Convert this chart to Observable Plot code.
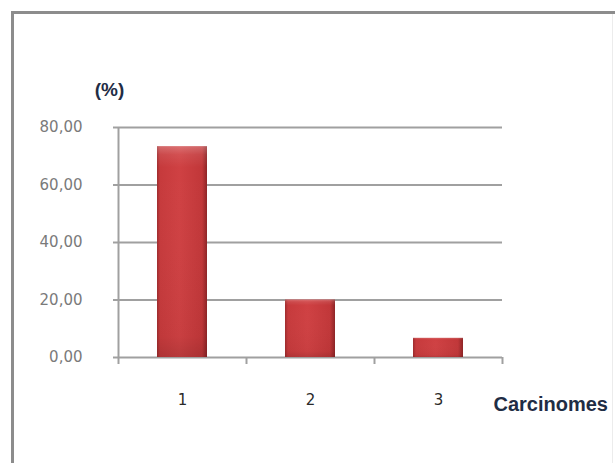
<!DOCTYPE html>
<html>
<head>
<meta charset="utf-8">
<script src="https://cdn.jsdelivr.net/npm/d3@7"></script>
<script src="https://cdn.jsdelivr.net/npm/@observablehq/plot@0.6"></script>
<style>
  html, body { margin: 0; padding: 0; background: #fff; }
  #wrap { position: relative; width: 615px; height: 463px; overflow: hidden; }
  #border { position: absolute; left: 11px; top: 11px; width: 640px; height: 480px;
            border-top: 3px solid #8c8c8c; border-left: 3px solid #8c8c8c; box-sizing: border-box; }
  #rborder { position: absolute; left: 612px; top: 14px; width: 1px; height: 460px; background: #ececec; }
  #chart { position: absolute; left: 0; top: 0; }
</style>
</head>
<body>
<div id="wrap">
  <div id="border"></div>
  <div id="rborder"></div>
  <div id="chart"></div>
</div>
<script>
const categories = ["1", "2", "3"];
const values = [73.33, 20.0, 6.67];
const yTicks = [0, 20, 40, 60, 80];
const yLabel = ["(%)"];
const xLabel = ["Carcinomes"];

const data = categories.map((c, i) => ({cat: c, value: values[i]}));
const fmt = d => d.toFixed(2).replace(".", ",");
const grey = "#a0a0a0";

const chart = Plot.plot({
  width: 615,
  height: 463,
  marginLeft: 118,
  marginRight: 113,
  marginTop: 127,
  marginBottom: 106,
  style: {background: "transparent", fontFamily: "'DejaVu Sans', sans-serif", overflow: "visible"},
  x: {type: "band", domain: categories, paddingInner: 0.61, paddingOuter: 0.305, label: null},
  y: {domain: [0, 80], label: null},
  marks: [
    Plot.gridY(yTicks, {stroke: grey, strokeOpacity: 1, strokeWidth: 2}),
    Plot.axisY({ticks: yTicks, tickSize: 5, tickPadding: 31, tickFormat: fmt, label: null,
                stroke: grey, strokeWidth: 2, fill: "#7a7a7a", fontSize: 15}),
    Plot.ruleX([categories[0]], {dx: -64, y1: 0, y2: 80, stroke: grey, strokeWidth: 2}),
    Plot.axisX({tickSize: 7, tickFormat: () => "", dx: -64, label: null, stroke: grey, strokeWidth: 2}),
    Plot.axisX({ticks: [categories[categories.length - 1]], tickSize: 7, tickFormat: () => "", dx: 64,
                label: null, stroke: grey, strokeWidth: 2}),
    Plot.axisX({tickSize: 0, tickPadding: 37, label: null, fill: "#2a2a2a", fontSize: 15}),
    Plot.barY(data, {x: "cat", y: "value", fill: "url(#barH)"}),
    Plot.barY(data, {x: "cat", y: "value", fill: "url(#barV)"}),
    Plot.text(yLabel, {frameAnchor: "top-left", textAnchor: "middle", lineAnchor: "middle", dx: -9, dy: -38,
                       fontWeight: "bold", fontSize: 19,
                       fontFamily: "'Liberation Sans', sans-serif", fill: "#1f2d45"}),
    Plot.text(xLabel, {frameAnchor: "bottom-right", textAnchor: "start", lineAnchor: "middle", dx: -9, dy: 47,
                       fontWeight: "bold", fontSize: 20,
                       fontFamily: "'Liberation Sans', sans-serif", fill: "#1f2d45"})
  ]
});

chart.insertAdjacentHTML("afterbegin", `
<defs>
  <linearGradient id="barH" x1="0" y1="0" x2="1" y2="0">
    <stop offset="0%" stop-color="#9e2b2d"/>
    <stop offset="6%" stop-color="#c63a3c"/>
    <stop offset="45%" stop-color="#cf4143"/>
    <stop offset="90%" stop-color="#c13739"/>
    <stop offset="100%" stop-color="#8e2426"/>
  </linearGradient>
  <linearGradient id="barV" x1="0" y1="0" x2="0" y2="1">
    <stop offset="0%" stop-color="#ffffff" stop-opacity="0.25"/>
    <stop offset="4%" stop-color="#ffffff" stop-opacity="0.08"/>
    <stop offset="10%" stop-color="#ffffff" stop-opacity="0"/>
    <stop offset="90%" stop-color="#000000" stop-opacity="0.03"/>
    <stop offset="100%" stop-color="#000000" stop-opacity="0.12"/>
  </linearGradient>
</defs>`);

document.getElementById("chart").appendChild(chart);
</script>
</body>
</html>
